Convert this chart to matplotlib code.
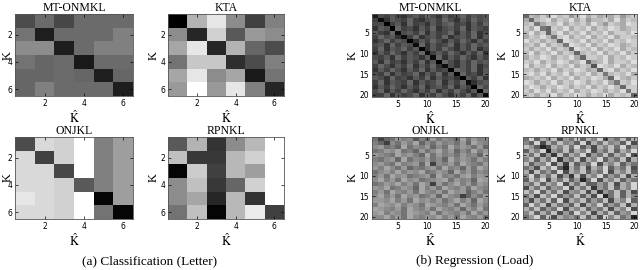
import matplotlib
matplotlib.use('Agg')
from matplotlib import pyplot as plt
import numpy as np

plt.rcParams['font.family'] = 'Liberation Serif'
plt.rcParams['mathtext.fontset'] = 'stix'

# (a) Classification (Letter): 6x6 gray levels (0 black .. 1 white)
letter_mt_onmkl = [
    [0.30, 0.42, 0.28, 0.42, 0.42, 0.42],
    [0.45, 0.12, 0.42, 0.42, 0.42, 0.50],
    [0.55, 0.55, 0.12, 0.42, 0.50, 0.50],
    [0.45, 0.40, 0.42, 0.10, 0.42, 0.42],
    [0.40, 0.40, 0.42, 0.40, 0.12, 0.40],
    [0.40, 0.50, 0.42, 0.42, 0.42, 0.12],
]
letter_kta = [
    [0.00, 0.70, 0.90, 0.55, 0.25, 0.50],
    [0.55, 0.15, 0.82, 0.35, 0.60, 0.55],
    [0.65, 0.90, 0.15, 0.70, 0.40, 0.30],
    [0.45, 0.78, 0.78, 0.18, 0.30, 0.50],
    [0.65, 0.90, 0.55, 0.65, 0.10, 0.45],
    [0.60, 1.00, 0.60, 0.90, 0.50, 0.15],
]
letter_onjkl = [
    [0.30, 0.85, 0.82, 1.00, 0.50, 0.62],
    [0.85, 0.25, 0.82, 1.00, 0.50, 0.62],
    [0.85, 0.85, 0.28, 1.00, 0.50, 0.62],
    [0.85, 0.85, 0.82, 0.35, 0.50, 0.62],
    [0.90, 0.85, 0.82, 1.00, 0.02, 0.62],
    [0.85, 0.85, 0.82, 1.00, 0.45, 0.02],
]
letter_rpnkl = [
    [0.35, 0.70, 0.20, 0.55, 0.72, 1.00],
    [0.75, 0.22, 0.22, 0.72, 0.82, 1.00],
    [0.02, 0.80, 0.25, 0.72, 0.62, 1.00],
    [0.55, 0.75, 0.22, 0.40, 0.82, 1.00],
    [0.55, 0.65, 0.15, 0.72, 0.20, 1.00],
    [0.45, 0.75, 0.02, 0.72, 0.92, 0.25],
]

# (b) Regression (Load): 20x20, one digit per cell (relative gray level 0-9)
load_mt_onmkl = [
    "26575467586475685767",
    "51476585467586475867",
    "66057485647578564758",
    "47608564758467584765",
    "75481675847568475846",
    "58674158467584675847",
    "46857604758647586475",
    "67485761847568475867",
    "58476857047586475846",
    "47586475815758647584",
    "65748576471847586475",
    "74856475847086475867",
    "58647584758416475846",
    "47586475847560875847",
    "65847568475847085647",
    "76485647584756407584",
    "58476584756847581467",
    "47586475846758475086",
    "68475864758475864708",
    "55847568475864758471",
]
load_kta = [
    "27686978579686768578",
    "62789687968577869687",
    "78368796878697587698",
    "86932879687968798678",
    "79682796879687968879",
    "68797389687968796887",
    "97868729879687968798",
    "78696873987968798678",
    "86879687298796879687",
    "79687968727879687968",
    "68798687962887968798",
    "87968798679267968879",
    "96879687968719879687",
    "78687968798672896879",
    "89796879687968378796",
    "67879687968798629768",
    "98687968798687963879",
    "79868798687968797288",
    "86979687968798687938",
    "78687968798687968782",
]
load_onjkl = [
    "40347562537465384756",
    "53064758364756473865",
    "67453846573648576473",
    "45768453746857364857",
    "76548675384756475638",
    "54673846574638576475",
    "67548567380657486547",
    "75864735467485637486",
    "46758576845763857465",
    "57486745673856478576",
    "68574867456784756387",
    "45768574860746857476",
    "76845763857486574865",
    "57486574865748673574",
    "68574867457386503647",
    "77685748675746857386",
    "58768576487657486475",
    "87657486574865737584",
    "78576487658476574857",
    "66857486576857486574",
]
load_rpnkl = [
    "49375826483759264837",
    "53927485639274856392",
    "86302758493627584936",
    "37590648375926483759",
    "74826183759264837592",
    "58374916482759364827",
    "83659271836492758364",
    "46285930748275936482",
    "72846392758364927583",
    "59374826182759364827",
    "38592748360492758364",
    "64837592748336482759",
    "27483659274816483759",
    "85937482658271648372",
    "47285936483729048375",
    "62748392758364827593",
    "39582746382759364827",
    "74836492758364827592",
    "58374826395827483659",
    "46938275648372958460",
]

def digits(rows):
    return np.array([[int(c) for c in r] for r in rows], dtype=float)

fig = plt.figure(figsize=(6.4, 2.7), dpi=100)

def panel(px, ylab_x, title, mat, n, ticks, vmin, vmax):
    x0, y0, x1, y1 = px
    w = x1 - x0
    h = y1 - y0
    ax = fig.add_axes([x0 / 640, 1 - y1 / 270, w / 640, h / 270])
    ax.imshow(mat, cmap='gray', vmin=vmin, vmax=vmax, aspect='auto',
              interpolation='nearest', extent=(0.5, n + 0.5, n + 0.5, 0.5))
    ax.set_xticks(ticks)
    ax.set_yticks(ticks)
    ax.tick_params(direction='in', length=2, width=0.5, labelsize=5.5,
                   top=True, right=True, pad=2)
    for lab in ax.get_xticklabels() + ax.get_yticklabels():
        lab.set_fontfamily('DejaVu Sans')
    for s in ax.spines.values():
        s.set_linewidth(0.6)
        s.set_color('#555555')
    ax.set_title(title, fontsize=8.5, pad=2)
    ax.set_xlabel(r'$\hat{\mathrm{K}}$', fontsize=9)
    ax.xaxis.set_label_coords(0.5, -13.0 / h)
    ax.set_ylabel('K', fontsize=9)
    ax.yaxis.set_label_coords((ylab_x + 9 - x0) / w, 0.5)
    return ax

panel((15, 14, 133, 96), 5, 'MT-ONMKL', np.array(letter_mt_onmkl), 6, [2, 4, 6], 0, 1)
panel((168, 14, 284, 96), 151, 'KTA', np.array(letter_kta), 6, [2, 4, 6], 0, 1)
panel((15, 137, 133, 219), 5, 'ONJKL', np.array(letter_onjkl), 6, [2, 4, 6], 0, 1)
panel((168, 137, 284, 219), 151, 'RPNKL', np.array(letter_rpnkl), 6, [2, 4, 6], 0, 1)

t20 = [5, 10, 15, 20]
panel((372, 14, 488, 97), 350, 'MT-ONMKL', digits(load_mt_onmkl), 20, t20, 0, 20)
panel((523, 14, 637, 97), 500, 'KTA', digits(load_kta), 20, t20, -4, 11)
panel((372, 137, 488, 219), 350, 'ONJKL', digits(load_onjkl), 20, t20, -5, 15)
panel((523, 137, 637, 219), 500, 'RPNKL', digits(load_rpnkl), 20, t20, -2, 11.3)

fig.text(150 / 640, 1 - 261 / 270, '(a) Classification (Letter)', ha='center', va='center', fontsize=9.5)
fig.text(475 / 640, 1 - 261 / 270, '(b) Regression (Load)', ha='center', va='center', fontsize=9.5)

plt.savefig('out.png', dpi=100)
